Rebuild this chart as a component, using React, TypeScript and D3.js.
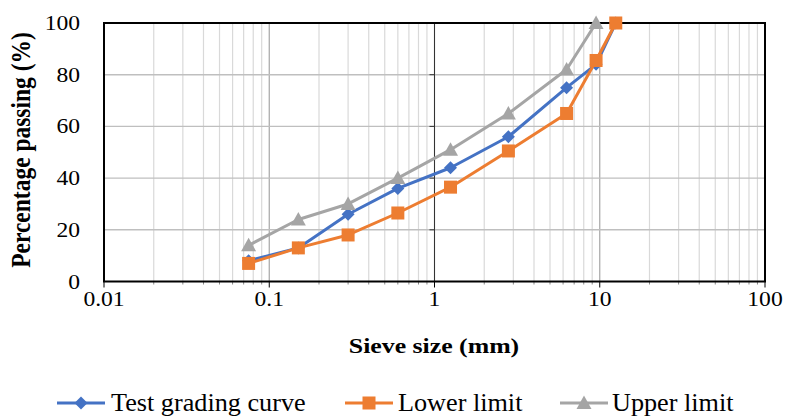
import React from "react";
import * as d3 from "d3";

const sieveSizes = [0.075, 0.15, 0.3, 0.6, 1.25, 2.8, 6.3, 9.5, 12.5];
const testCurve = [8, 13, 26, 36, 44, 56, 75, 84, 100];
const lowerLimit = [7, 13, 18, 26.5, 36.5, 50.5, 65, 85.5, 100];
const upperLimitSizes = [0.075, 0.15, 0.3, 0.6, 1.25, 2.8, 6.3, 9.5];
const upperLimit = [14, 24, 30, 40, 51, 65, 82, 100];
const xTicks = [0.01, 0.1, 1, 10, 100];
const xTickLabels = ["0.01", "0.1", "1", "10", "100"];
const yTicks = [0, 20, 40, 60, 80, 100];
const seriesNames = ["Test grading curve", "Lower limit", "Upper limit"];

const W = 786, H = 417;
const L = 104, R = 765, T = 23, B = 281.5;
const FONT = "'Liberation Serif', 'Times New Roman', serif";
const SX = 1.2;

const x = d3.scaleLog().domain([0.01, 100]).range([L, R]);
const y = d3.scaleLinear().domain([0, 100]).range([B, T]);

const minorX: number[] = [];
for (let k = -2; k < 2; k++) for (let m = 2; m <= 9; m++) minorX.push(m * Math.pow(10, k));

const colors = ["#4472C4", "#ED7D31", "#A5A5A5"];

function Marker({ kind, cx, cy, color }: { kind: number; cx: number; cy: number; color: string }) {
  if (kind === 0) {
    const s = 6.5;
    return <path d={`M${cx},${cy - s}L${cx + s},${cy}L${cx},${cy + s}L${cx - s},${cy}Z`} fill={color} />;
  }
  if (kind === 1) {
    const s = 6.5;
    return <rect x={cx - s} y={cy - s} width={2 * s} height={2 * s} fill={color} />;
  }
  const s = 7.5;
  return <path d={`M${cx},${cy - s}L${cx + s},${cy + s * 0.8}L${cx - s},${cy + s * 0.8}Z`} fill={color} />;
}

function Txt({ x0, y0, size, anchor, bold, children, rotate, sx }: any) {
  const k = sx ?? SX;
  const tf = rotate
    ? `translate(${x0},${y0}) scale(${k},1) rotate(-90)`
    : `translate(${x0},${y0}) scale(${k},1)`;
  return (
    <text transform={tf} fontSize={size} fontFamily={FONT} fontWeight={bold ? "bold" : "normal"} textAnchor={anchor} fill="#000">
      {children}
    </text>
  );
}

export default function App() {
  const line = d3.line<[number, number]>().x(d => x(d[0])).y(d => y(d[1]));
  const series = [
    { xs: sieveSizes, ys: testCurve },
    { xs: sieveSizes, ys: lowerLimit },
    { xs: upperLimitSizes, ys: upperLimit },
  ];
  const legend = [
    { x1: 57, x2: 105, tx: 111 },
    { x1: 345, x2: 393, tx: 398 },
    { x1: 560, x2: 608, tx: 612 },
  ];
  return (
    <svg width={W} height={H} style={{ position: "absolute", left: 0, top: 0, background: "#fff" }}>
      <rect x={0} y={0} width={W} height={H} fill="#fff" />
      {minorX.map((v, i) => (
        <line key={"mx" + i} x1={x(v)} x2={x(v)} y1={T} y2={B} stroke="#d9d9d9" strokeWidth={1.2} />
      ))}
      {xTicks.slice(1, -1).map((v, i) => (
        <line key={"Mx" + i} x1={x(v)} x2={x(v)} y1={T} y2={B} stroke="#a6a6a6" strokeWidth={1.2} />
      ))}
      {yTicks.slice(1, -1).map((v, i) => (
        <line key={"gy" + i} x1={L} x2={R} y1={y(v)} y2={y(v)} stroke="#bfbfbf" strokeWidth={1.4} />
      ))}
      <line x1={x(1)} x2={x(1)} y1={T} y2={B} stroke="#333" strokeWidth={1} />
      {yTicks.map((v, i) => (
        <line key={"yt" + i} x1={x(1) - 5} x2={x(1)} y1={y(v)} y2={y(v)} stroke="#333" strokeWidth={1} />
      ))}
      {minorX.map((v, i) => (
        <line key={"mt" + i} x1={x(v)} x2={x(v)} y1={B} y2={B + 3} stroke="#888" strokeWidth={1} />
      ))}
      {xTicks.map((v, i) => (
        <line key={"xt" + i} x1={x(v)} x2={x(v)} y1={B} y2={B + 6} stroke="#000" strokeWidth={1} />
      ))}
      <rect x={L} y={T} width={R - L} height={B - T} fill="none" stroke="#000" strokeWidth={2} />
      {series.map((s, si) => {
        const pts = s.xs.map((v, i) => [v, s.ys[i]] as [number, number]);
        return (
          <g key={"s" + si}>
            <path d={line(pts) || ""} fill="none" stroke={colors[si]} strokeWidth={3} strokeLinejoin="round" />
            {pts.map((p, i) => (
              <Marker key={i} kind={si} cx={x(p[0])} cy={y(p[1])} color={colors[si]} />
            ))}
          </g>
        );
      })}
      {yTicks.map((v, i) => (
        <Txt key={"yl" + i} x0={80} y0={y(v) + 7} size={20.5} anchor="end" sx={1.15}>{String(v)}</Txt>
      ))}
      {xTicks.map((v, i) => (
        <Txt key={"xl" + i} x0={x(v)} y0={305.5} size={20.5} anchor="middle" sx={1.15}>{xTickLabels[i]}</Txt>
      ))}
      <Txt x0={434} y0={353} size={21.5} anchor="middle" bold>Sieve size (mm)</Txt>
      <Txt x0={30} y0={150} size={23.5} anchor="middle" bold rotate>Percentage passing (%)</Txt>
      {legend.map((lg, i) => (
        <g key={"lg" + i}>
          <line x1={lg.x1} x2={lg.x2} y1={403} y2={403} stroke={colors[i]} strokeWidth={3} />
          <Marker kind={i} cx={(lg.x1 + lg.x2) / 2} cy={403} color={colors[i]} />
          <Txt x0={lg.tx} y0={411} size={24.5} anchor="start" sx={1.07}>{seriesNames[i]}</Txt>
        </g>
      ))}
    </svg>
  );
}
